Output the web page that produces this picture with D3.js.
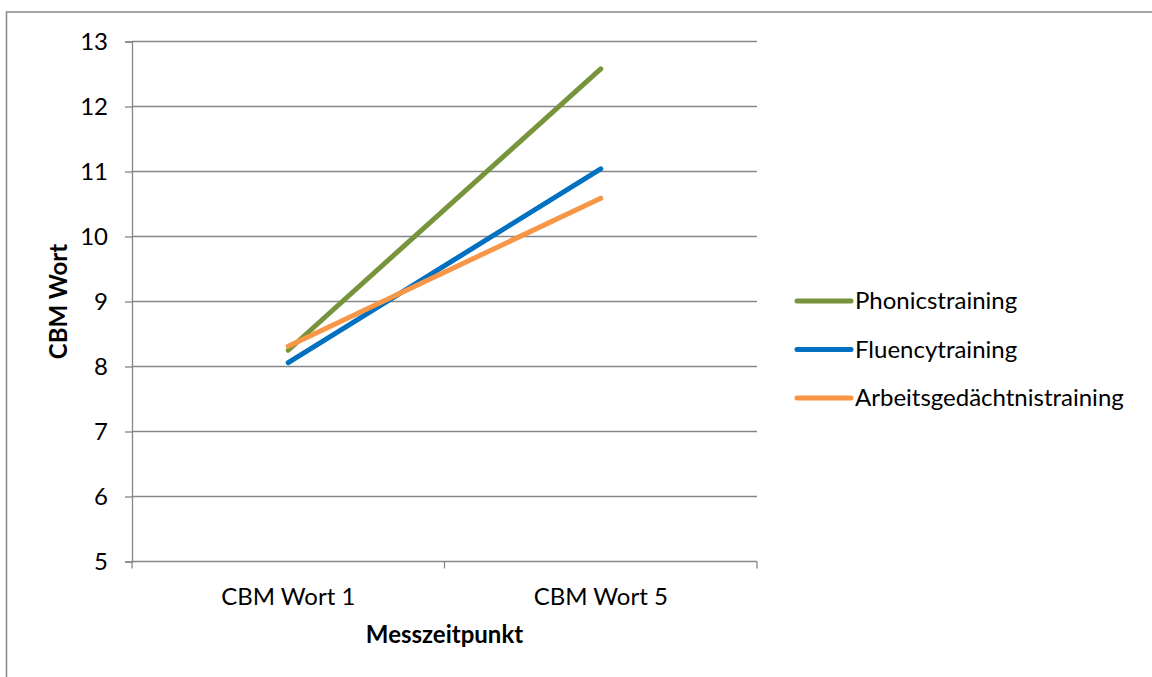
<!DOCTYPE html>
<html>
<head>
<meta charset="utf-8">
<script src="https://cdn.jsdelivr.net/npm/d3@7"></script>
<style>
  html, body { margin: 0; padding: 0; background: #fff; }
  svg { display: block; font-family: Lato, "Open Sans", sans-serif; }
</style>
</head>
<body>
<svg id="chart" width="1152" height="677"></svg>
<script>
// Measurement points on the x axis
const categories = ["CBM Wort 1", "CBM Wort 5"];

// Mean CBM word scores per training group
const seriesNames = ["Phonicstraining", "Fluencytraining", "Arbeitsgedächtnistraining"];
const phonicsValues = [8.25, 12.58];
const fluencyValues = [8.06, 11.04];
const workingMemoryValues = [8.31, 10.59];
const seriesColors = ["#77933C", "#0070C0", "#F79646"];

// Y-axis ticks
const yTicks = [5, 6, 7, 8, 9, 10, 11, 12, 13];

const FONT = 24;

const series = [phonicsValues, fluencyValues, workingMemoryValues].map((vals, i) => ({
  name: seriesNames[i],
  color: seriesColors[i],
  values: vals.map((v, j) => ({ cat: categories[j], v }))
}));

const svg = d3.select("#chart");

// Outer chart frame
svg.append("rect")
  .attr("x", 6.5).attr("y", 12)
  .attr("width", 1152).attr("height", 680)
  .attr("fill", "#fff").attr("stroke", "#868686").attr("stroke-width", 1.5);

const plot = { left: 132, right: 757, top: 41.5, bottom: 561.5 };

const x = d3.scaleBand().domain(categories).range([plot.left, plot.right]);
const y = d3.scaleLinear().domain([5, 13]).range([plot.bottom, plot.top]);

// Horizontal grid lines
svg.append("g").selectAll("line")
  .data(yTicks.filter(t => t !== 5))
  .join("line")
  .attr("x1", plot.left).attr("x2", plot.right)
  .attr("y1", d => y(d)).attr("y2", d => y(d))
  .attr("stroke", "#868686").attr("stroke-width", 1.3);

// Y axis
const yAxis = svg.append("g")
  .attr("transform", `translate(${plot.left},0)`)
  .call(d3.axisLeft(y).tickValues(yTicks).tickSize(7).tickPadding(17).tickFormat(d3.format("d")));
yAxis.select(".domain").attr("stroke", "#868686").attr("stroke-width", 1.3);
yAxis.selectAll(".tick line").attr("stroke", "#868686").attr("stroke-width", 1.3);
yAxis.selectAll(".tick text").attr("font-size", FONT).attr("fill", "#000").attr("font-family", "Lato, sans-serif");

// X axis with tick marks on category boundaries
const xAxisG = svg.append("g").attr("transform", `translate(0,${plot.bottom})`);
xAxisG.append("line")
  .attr("x1", plot.left).attr("x2", plot.right)
  .attr("stroke", "#868686").attr("stroke-width", 1.3);
const boundaries = categories.map(c => x(c)).concat([x(categories[categories.length - 1]) + x.bandwidth()]);
xAxisG.selectAll(".bt").data(boundaries).join("line")
  .attr("class", "bt")
  .attr("x1", d => d).attr("x2", d => d)
  .attr("y1", 0).attr("y2", 7)
  .attr("stroke", "#868686").attr("stroke-width", 1.3);
xAxisG.selectAll(".cl").data(categories).join("text")
  .attr("class", "cl")
  .attr("x", d => x(d) + x.bandwidth() / 2)
  .attr("y", 43)
  .attr("text-anchor", "middle")
  .attr("font-size", FONT)
  .attr("fill", "#000")
  .text(d => d);

// Axis titles
svg.append("text")
  .attr("x", (plot.left + plot.right) / 2).attr("y", 643)
  .attr("text-anchor", "middle")
  .attr("font-size", FONT).attr("font-weight", "bold")
  .text("Messzeitpunkt");

svg.append("text")
  .attr("transform", `translate(67,${(plot.top + plot.bottom) / 2}) rotate(-90)`)
  .attr("text-anchor", "middle")
  .attr("font-size", FONT).attr("font-weight", "bold")
  .text("CBM Wort");

// Series lines
const line = d3.line()
  .x(d => x(d.cat) + x.bandwidth() / 2)
  .y(d => y(d.v));

svg.append("g").selectAll("path")
  .data(series)
  .join("path")
  .attr("d", d => line(d.values))
  .attr("fill", "none")
  .attr("stroke", d => d.color)
  .attr("stroke-width", 5)
  .attr("stroke-linecap", "round");

// Legend
const legend = svg.append("g").selectAll("g")
  .data(series)
  .join("g")
  .attr("transform", (d, i) => `translate(797,${301 + i * 48.5})`);
legend.append("line")
  .attr("x1", 0).attr("x2", 54)
  .attr("stroke", d => d.color)
  .attr("stroke-width", 5)
  .attr("stroke-linecap", "round");
legend.append("text")
  .attr("x", 58).attr("y", 8)
  .attr("font-size", FONT)
  .attr("fill", "#000")
  .text(d => d.name);
</script>
</body>
</html>
